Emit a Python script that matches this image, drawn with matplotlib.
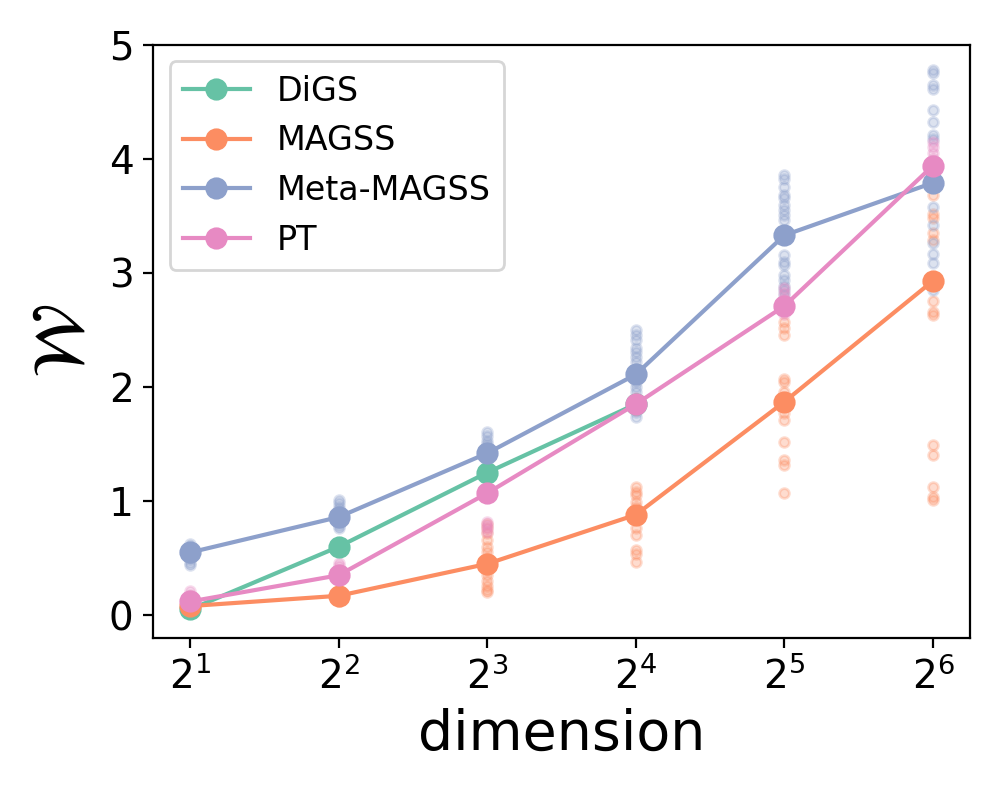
import numpy as np
import matplotlib
matplotlib.use("Agg")
import matplotlib.pyplot as plt

# dimensions (powers of two)
dims = [2, 4, 8, 16, 32, 64]
dim_labels = [r"$2^{1}$", r"$2^{2}$", r"$2^{3}$", r"$2^{4}$", r"$2^{5}$", r"$2^{6}$"]

# mean curves
digs_mean = [0.05, 0.60, 1.25, 1.85]
magss_mean = [0.08, 0.17, 0.45, 0.88, 1.87, 2.93]
meta_mean = [0.55, 0.86, 1.42, 2.11, 3.33, 3.79]
pt_mean = [0.12, 0.35, 1.07, 1.85, 2.71, 3.94]

# individual runs, one list per dimension
magss_runs = [
    [0.08, 0.09],
    [0.22, 0.19, 0.15, 0.13, 0.12],
    [0.80, 0.76, 0.72, 0.66, 0.60, 0.55, 0.50, 0.45, 0.40, 0.35, 0.30, 0.26, 0.22, 0.20],
    [1.12, 1.08, 1.05, 0.99, 0.95, 0.76, 0.70, 0.57, 0.54, 0.47],
    [2.57, 2.52, 2.46, 2.07, 2.04, 1.96, 1.90, 1.77, 1.71, 1.52, 1.36, 1.32, 1.07],
    [3.68, 3.52, 3.48, 3.35, 3.29, 2.75, 2.66, 2.63, 1.49, 1.40, 1.12, 1.04, 1.01],
]
meta_runs = [
    [0.62, 0.60, 0.58, 0.56, 0.53, 0.51, 0.49, 0.46, 0.44],
    [1.01, 0.98, 0.95, 0.92, 0.89, 0.84, 0.81, 0.78, 0.76],
    [1.61, 1.57, 1.53, 1.50, 1.47, 1.44, 1.38, 1.35, 1.31],
    [2.50, 2.46, 2.41, 2.34, 2.31, 2.26, 2.22, 2.16, 2.04, 2.00, 1.96, 1.87, 1.78, 1.74],
    [3.86, 3.82, 3.75, 3.68, 3.66, 3.60, 3.55, 3.51, 3.46, 3.16, 3.10, 3.07, 2.98, 2.94, 2.89, 2.85, 2.81],
    [4.78, 4.75, 4.65, 4.61, 4.43, 4.32, 4.21, 4.17, 3.58, 3.42, 3.26, 3.17, 3.09, 2.85],
]
pt_runs = [
    [0.21, 0.18, 0.15, 0.12],
    [0.46, 0.43, 0.40, 0.37, 0.33, 0.30],
    [0.82, 0.79, 0.76, 0.73],
    [1.90, 1.88, 1.85, 1.80],
    [2.87, 2.82, 2.77, 2.68, 2.64],
    [4.15, 4.10, 4.05, 4.00],
]

colors = {"DiGS": "#66c2a5", "MAGSS": "#fc8d62", "Meta-MAGSS": "#8da0cb", "PT": "#e78ac3"}

fig, ax = plt.subplots(figsize=(5, 4), dpi=200)
fig.subplots_adjust(left=0.153, right=0.97, top=0.944, bottom=0.2025)

# scatter of runs
for name, runs in [("MAGSS", magss_runs), ("Meta-MAGSS", meta_runs), ("PT", pt_runs)]:
    for d, vals in zip(dims, runs):
        ax.plot([d] * len(vals), vals, "o", color=colors[name], alpha=0.3,
                markersize=3.5, markeredgewidth=1)

# mean lines
ax.plot(dims[:len(digs_mean)], digs_mean, "o-", color=colors["DiGS"], lw=1.5, ms=7, label="DiGS")
ax.plot(dims, magss_mean, "o-", color=colors["MAGSS"], lw=1.5, ms=7, label="MAGSS")
ax.plot(dims, meta_mean, "o-", color=colors["Meta-MAGSS"], lw=1.5, ms=7, label="Meta-MAGSS")
ax.plot(dims, pt_mean, "o-", color=colors["PT"], lw=1.5, ms=7, label="PT")

ax.set_xscale("log", base=2)
ax.set_xticks(dims)
ax.set_xticklabels(dim_labels)
ax.xaxis.set_minor_locator(matplotlib.ticker.NullLocator())
ax.set_ylim(-0.2, 5.0)
ax.set_yticks([0, 1, 2, 3, 4, 5])
ax.tick_params(labelsize=14)
ax.set_xlabel("dimension", fontsize=20)
ax.set_ylabel(r"$\mathcal{W}$", fontsize=26)
ax.legend(loc="upper left", fontsize=12)

fig.savefig("out.png")
